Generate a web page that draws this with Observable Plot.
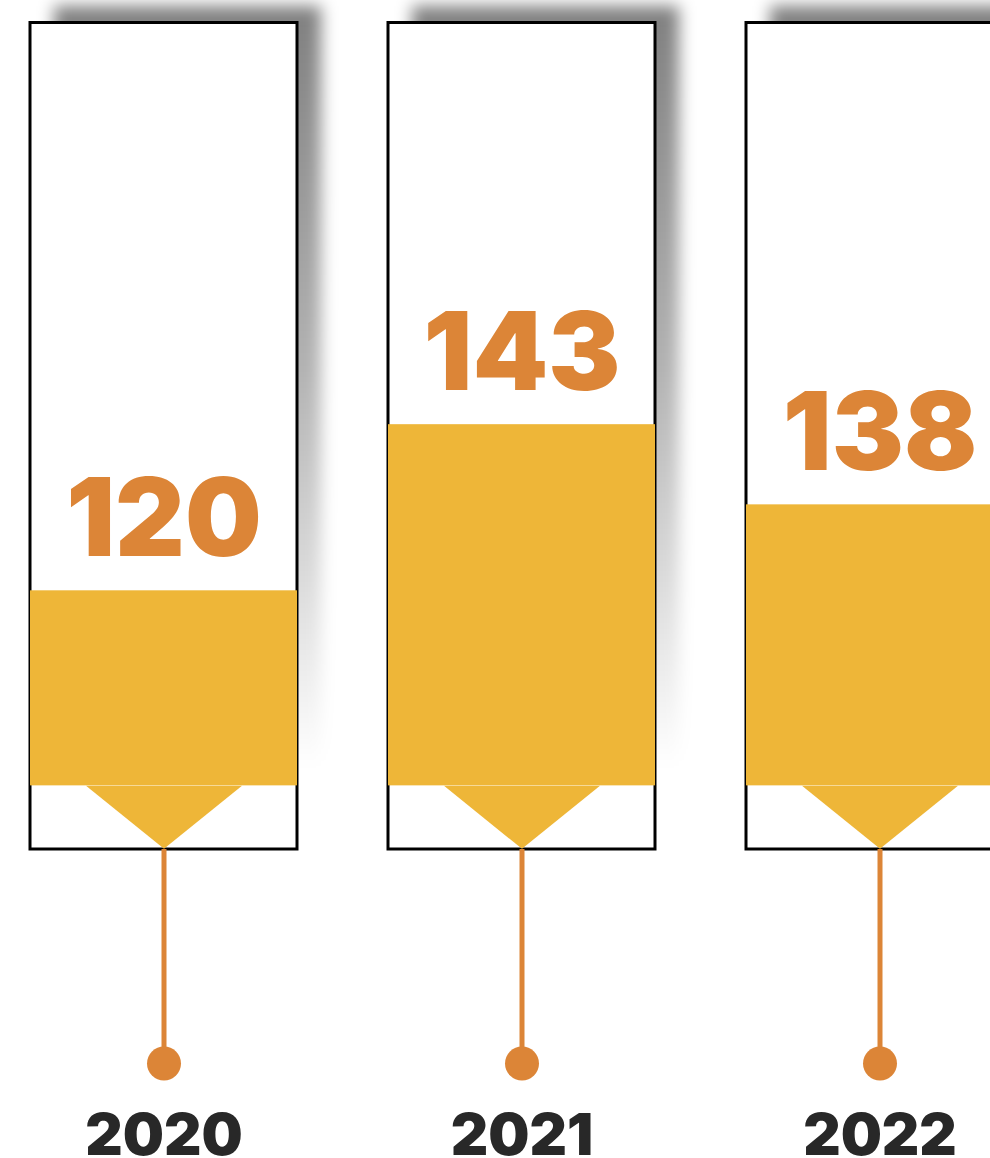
<!DOCTYPE html>
<html><head><meta charset="utf-8">
<script src="https://cdn.jsdelivr.net/npm/d3@7"></script>
<script src="https://cdn.jsdelivr.net/npm/@observablehq/plot@0.6"></script>
<style>html,body{margin:0;padding:0;background:#fff;overflow:hidden}</style>
</head><body><div id="chart"></div>
<script>
// Data
const years = ["2020", "2021", "2022"];
const values = [120, 143, 138];
// fill level of each box (0 = box bottom, 100 = box top)
const fillLevels = [31.3, 51.4, 41.7];
const barBase = 7.7;
const boxBottom = 0, boxTop = 100;

const data = years.map((y, i) => ({year: y, value: values[i], level: fillLevels[i]}));

// downward chevron under each bar
const chevron = {draw(ctx) { ctx.moveTo(-78, 0); ctx.lineTo(78, 0); ctx.lineTo(0, 63); ctx.closePath(); }};

const chart = Plot.plot({
  width: 990, height: 1158, margin: 0,
  x: {type: "band", domain: years, range: [30, 1015], paddingInner: 0.2535, paddingOuter: 0, align: 0, axis: null},
  y: {domain: [0, 100], range: [849, 22.5], axis: null},
  style: {background: "#fff", overflow: "hidden"},
  marks: [
    Plot.barY(data, {x: "year", y1: 5, y2: 102, dx: 24, fill: "url(#shadowGrad)"}),
    Plot.barY(data, {x: "year", y1: boxBottom, y2: boxTop, fill: "#fff", stroke: "#000", strokeWidth: 3}),
    Plot.barY(data, {x: "year", y1: barBase, y2: "level", fill: "#eeb638"}),
    Plot.dot(data, {x: "year", y: barBase, symbol: chevron, fill: "#eeb638", stroke: "none"}),
    Plot.ruleX(data, {x: "year", stroke: "#dc8537", strokeWidth: 5, insetTop: 849, insetBottom: 95}),
    Plot.dot(data, {x: "year", frameAnchor: "bottom", dy: -95, r: 17, fill: "#dc8537", stroke: "none"}),
    Plot.text(data, {x: "year", y: "level", text: d => String(d.value), dy: -69, fill: "#dc8537",
      fontSize: 108, fontWeight: 900, fontFamily: "Inter", lineAnchor: "middle"}),
    Plot.text(data, {x: "year", frameAnchor: "bottom", lineAnchor: "bottom", dy: -4, text: "year", fill: "#282828",
      fontSize: 58, fontWeight: 900, fontFamily: "Inter"})
  ]
});

const svg = d3.select(chart);
const defs = svg.insert("defs", ":first-child");
const g = defs.append("linearGradient").attr("id", "shadowGrad").attr("x1", 0).attr("y1", 0).attr("x2", 0).attr("y2", 1);
g.append("stop").attr("offset", "0%").attr("stop-color", "#000").attr("stop-opacity", 0.5);
g.append("stop").attr("offset", "45%").attr("stop-color", "#000").attr("stop-opacity", 0.3);
g.append("stop").attr("offset", "95%").attr("stop-color", "#000").attr("stop-opacity", 0);
const f = defs.append("filter").attr("id", "shadowBlur")
  .attr("filterUnits", "userSpaceOnUse").attr("x", -50).attr("y", -50).attr("width", 1100).attr("height", 1000);
f.append("feGaussianBlur").attr("stdDeviation", 8);
svg.selectAll("g").filter(function() { return (this.getAttribute("fill") || "").includes("shadowGrad"); })
  .attr("filter", "url(#shadowBlur)");

document.getElementById("chart").appendChild(chart);
</script>
</body></html>
